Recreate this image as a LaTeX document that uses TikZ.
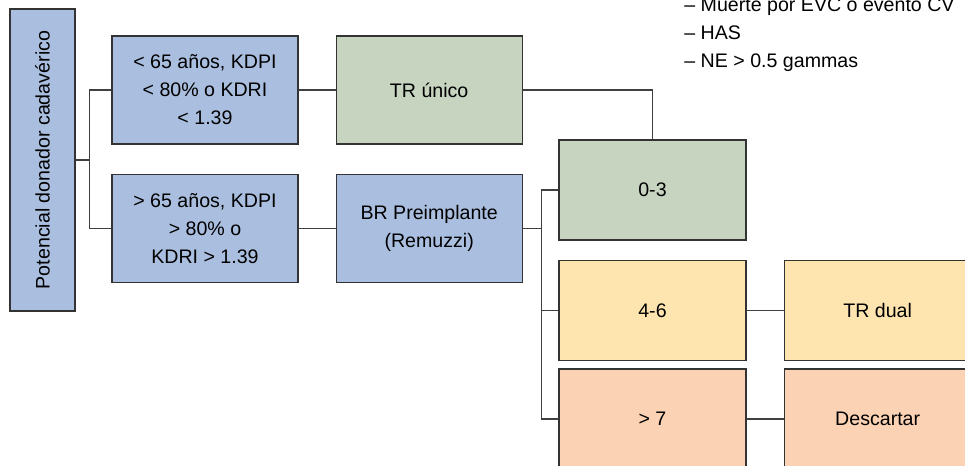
\documentclass[tikz,border=0pt]{standalone}
\usepackage{fontspec}
\setmainfont{Liberation Sans}
\usepackage{tikz}
\definecolor{box_blue}{HTML}{AABFE0}
\definecolor{box_green}{HTML}{C6D4C0}
\definecolor{box_yellow}{HTML}{FEE5B0}
\definecolor{box_salmon}{HTML}{FCD2B4}
\tikzset{
  block_font/.style = {font=\fontsize{9.8}{14}\selectfont},
  note_font/.style = {font=\fontsize{9.8}{14}\selectfont},
  block_size/.style = {minimum width=93pt, minimum height=54pt},
  score_size/.style = {minimum width=93.5pt, minimum height=50pt}
}
\tikzset{
  block/.style = {block_font, block_size, align=center, draw=black!80, line width=0.6pt, inner sep=0},
  score/.style = {block, score_size},
  blue_block/.style = {block, fill=box_blue},
  green_block/.style = {block, fill=box_green},
  link/.style = {draw=black!75, line width=0.6pt},
  note/.style = {note_font, align=left, inner sep=0, anchor=north west}
}
\usetikzlibrary{positioning}

\begin{document}
\begin{tikzpicture}[x=0.5pt, y=-0.5pt, node distance=18.5pt]
        \useasboundingbox (0,0) rectangle (965,466);

        % Donor
        \node[blue_block, rotate=90, minimum width=151pt, minimum height=32.5pt] at (42.5,160) (donor) {
            Potencial donador cadavérico};

        % Criteria
        \node[blue_block] at (205,90) (k_low) {
            < 65 años, KDPI \\ < 80\% o KDRI \\ < 1.39};
        \node[blue_block] at (205,228.5) (k_high) {
            > 65 años, KDPI \\ > 80\% o \\ KDRI > 1.39};
        \node[green_block, right=of k_low] (tr_unico) {
            TR único};
        \node[blue_block, right=of k_high] (biopsy) {
            BR Preimplante \\ (Remuzzi)};

        % Remuzzi score
        \node[score, fill=box_green] at (652.5,190) (s_low) {0-3};
        \node[score, fill=box_yellow] at (652.5,310.5) (s_mid) {4-6};
        \node[score, fill=box_salmon] at (652.5,419) (s_high) {> 7};
        \node[score, fill=box_yellow, right=of s_mid] (tr_dual) {TR dual};
        \node[score, fill=box_salmon, right=of s_high] (discard) {Descartar};

        % Note
        \node[note] at (684,-3) (criteria) {
            -- Muerte por EVC o evento CV \\
            -- HAS \\
            -- NE > 0.5 gammas};

        % Lines
        \draw[link] (donor.south) -- ++(14,0) coordinate (fork_a);
        \draw[link] (k_low.west) -| (fork_a);
        \draw[link] (k_high.west) -| (fork_a);
        \draw[link] (k_low) -- (tr_unico);
        \draw[link] (k_high) -- (biopsy);
        \draw[link] (tr_unico.east) -| (s_low.north);

        \draw[link] (biopsy.east) -- ++(19,0) coordinate (fork_b);
        \draw[link] (s_low.west) -| (fork_b) |- (s_high.west);
        \draw[link] (s_mid.west) -- (s_mid.west -| fork_b);
        \draw[link] (s_mid) -- (tr_dual);
        \draw[link] (s_high) -- (discard);
\end{tikzpicture}
\end{document}
